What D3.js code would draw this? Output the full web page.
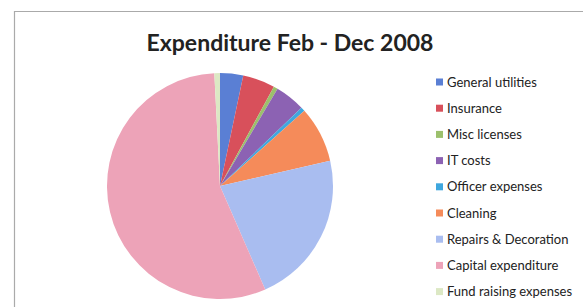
<!DOCTYPE html>
<html>
<head>
<meta charset="utf-8">
<script src="https://cdn.jsdelivr.net/npm/d3@7"></script>
<style>
  body { margin: 0; background: #fff; }
  svg { display: block; }
</style>
</head>
<body>
<div class="canvas"></div>
<script>
const dims = { width: 583, height: 307 };

// data (percent of total)
const categories = ['General utilities', 'Insurance', 'Misc licenses', 'IT costs', 'Officer expenses',
  'Cleaning', 'Repairs & Decoration', 'Capital expenditure', 'Fund raising expenses'];
const values = [3.3, 4.6, 0.6, 4.3, 0.6, 8.0, 22.0, 55.7, 0.8];
const colours = ['#5a7fd4', '#d8505b', '#9cc06c', '#8c62b3', '#3fa7de',
  '#f58b5a', '#a9bdf0', '#eda3b8', '#dce8c4'];

const svg = d3.select('.canvas')
  .append('svg')
  .attr('width', dims.width)
  .attr('height', dims.height);

// chart frame (only top + left visible in the crop)
svg.append('path')
  .attr('d', 'M14.5,' + dims.height + ' V11.5 H' + dims.width)
  .attr('fill', 'none')
  .attr('stroke', '#aaa')
  .attr('stroke-width', 1.2);

svg.append('text')
  .attr('x', 290)
  .attr('y', 51)
  .attr('text-anchor', 'middle')
  .attr('font-family', 'Lato, "Open Sans", sans-serif')
  .attr('font-weight', 'bold')
  .attr('font-size', 23)
  .attr('fill', '#222')
  .text('Expenditure Feb - Dec 2008');

const colour = d3.scaleOrdinal(categories, colours);

const pie = d3.pie().sort(null).value(d => d.value);
const arc = d3.arc().innerRadius(0).outerRadius(113);

const data = categories.map((c, i) => ({ name: c, value: values[i] }));

const graph = svg.append('g')
  .attr('transform', 'translate(220, 186)');

graph.selectAll('path')
  .data(pie(data))
  .enter()
  .append('path')
    .attr('d', arc)
    .attr('fill', d => colour(d.data.name));

// legend
const legend = svg.append('g')
  .attr('transform', 'translate(436, 82)');

const rows = legend.selectAll('g')
  .data(categories)
  .enter()
  .append('g')
    .attr('transform', (d, i) => `translate(0, ${i * 26.2})`);

rows.append('rect')
  .attr('x', 0)
  .attr('y', -3.5)
  .attr('width', 7)
  .attr('height', 7)
  .attr('fill', d => colour(d));

rows.append('text')
  .attr('x', 11)
  .attr('dy', '0.35em')
  .attr('font-family', 'Lato, "Open Sans", sans-serif')
  .attr('font-size', 13)
  .attr('fill', '#222')
  .text(d => d);
</script>
</body>
</html>
